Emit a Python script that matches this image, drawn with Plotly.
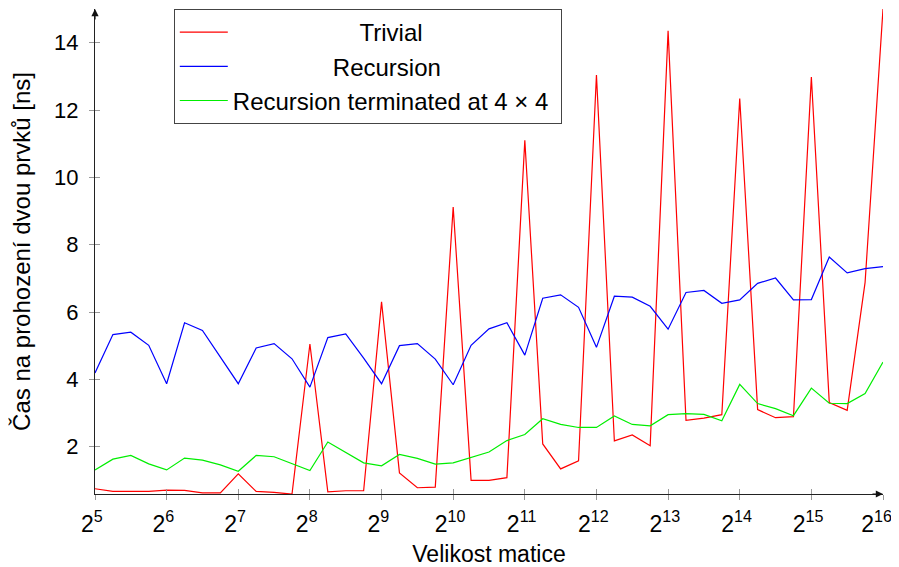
import math
import plotly.graph_objects as go

# x positions: matrix size exponents (size = 2**exponent), 4 samples per octave
exponents = [5.0, 5.25, 5.5, 5.75, 6.0, 6.25, 6.5, 6.75, 7.0, 7.25, 7.5, 7.75,
             8.0, 8.25, 8.5, 8.75, 9.0, 9.25, 9.5, 9.75, 10.0, 10.25, 10.5, 10.75,
             11.0, 11.25, 11.5, 11.75, 12.0, 12.25, 12.5, 12.75, 13.0, 13.25, 13.5, 13.75,
             14.0, 14.25, 14.5, 14.75, 15.0, 15.25, 15.5, 15.75, 16.0]

trivial = [0.75, 0.67, 0.67, 0.67, 0.71, 0.70, 0.63, 0.63, 1.19, 0.67, 0.64, 0.59,
           5.05, 0.66, 0.69, 0.69, 6.30, 1.22, 0.78, 0.80, 9.12, 1.00, 1.00, 1.08,
           11.10, 2.08, 1.34, 1.58, 13.04, 2.17, 2.35, 2.03, 14.35, 2.78, 2.85, 2.95,
           12.34, 3.10, 2.86, 2.89, 12.98, 3.31, 3.08, 6.88, 15.0]

recursion = [4.19, 5.33, 5.40, 5.01, 3.87, 5.68, 5.45, 4.66, 3.87, 4.93, 5.06, 4.61,
             3.77, 5.24, 5.35, 4.63, 3.87, 5.00, 5.06, 4.60, 3.84, 5.01, 5.50, 5.68,
             4.72, 6.41, 6.51, 6.14, 4.95, 6.47, 6.44, 6.17, 5.49, 6.58, 6.64, 6.26,
             6.36, 6.85, 7.01, 6.36, 6.37, 7.63, 7.16, 7.29, 7.35]

recursion4 = [1.31, 1.63, 1.74, 1.49, 1.31, 1.66, 1.60, 1.46, 1.27, 1.74, 1.70, 1.49,
              1.29, 2.14, 1.84, 1.52, 1.43, 1.77, 1.65, 1.48, 1.52, 1.69, 1.84, 2.18,
              2.36, 2.83, 2.66, 2.57, 2.57, 2.91, 2.66, 2.62, 2.95, 2.98, 2.96, 2.77,
              3.85, 3.28, 3.13, 2.92, 3.74, 3.29, 3.28, 3.58, 4.51]

tick_exponents = [5, 6, 7, 8, 9, 10, 11, 12, 13, 14, 15, 16]
y_ticks = [2, 4, 6, 8, 10, 12, 14]

FONT = "Liberation Sans, Arial, Helvetica, sans-serif"
NB = "\u00a0"

sizes = [2 ** e for e in exponents]
tick_vals = [2 ** e for e in tick_exponents]
tick_text = [f"2<sup>{e}</sup>" + NB for e in tick_exponents]
tick_text[-1] += NB  # keep the last label inside the window

fig = go.Figure()
fig.add_trace(go.Scatter(x=sizes, y=trivial, mode="lines", name=NB * 19 + "Trivial",
                         line=dict(color="#ff0000", width=1.2)))
fig.add_trace(go.Scatter(x=sizes, y=recursion, mode="lines", name=NB * 15 + "Recursion",
                         line=dict(color="#0000ff", width=1.2)))
fig.add_trace(go.Scatter(x=sizes, y=recursion4, mode="lines",
                         name="Recursion terminated at 4 × 4" + NB,
                         line=dict(color="#00ee00", width=1.2)))

xr = [math.log10(2 ** 5), math.log10(2 ** 16)]
yr = [0.594, 15.0]

# the page body has an 8px margin, so margins are set to place the plot area
fig.update_layout(
    width=899, height=559,
    margin=dict(l=87, r=24, t=1, b=73, autoexpand=False),
    paper_bgcolor="white", plot_bgcolor="white",
    font=dict(family=FONT, size=24, color="black"),
    showlegend=True,
    legend=dict(x=0.1, y=1.0, xanchor="left", yanchor="top",
                bgcolor="white", bordercolor="#444", borderwidth=1,
                font=dict(size=24), itemwidth=48),
    xaxis=dict(type="log", range=xr, tickvals=tick_vals, ticktext=tick_text,
               automargin=False,
               showgrid=False, zeroline=False, showline=True, linecolor="#222",
               linewidth=1.2, ticks="outside", ticklen=5, tickcolor="#999",
               tickfont=dict(size=23), ticklabelstandoff=4,
               title=dict(text="Velikost matice", font=dict(size=23), standoff=11)),
    yaxis=dict(range=yr, tickvals=y_ticks, showgrid=False, zeroline=False,
               automargin=False,
               showline=True, linecolor="#222", linewidth=1.2, ticks="outside",
               ticklen=5, tickcolor="#999", tickfont=dict(size=22),
               ticklabelstandoff=6,
               title=dict(text="Čas na prohození dvou prvků [ns]", font=dict(size=24),
                          standoff=17)),
    xaxis2=dict(type="log", range=xr, tickvals=tick_vals, overlaying="x",
                side="bottom", showticklabels=False, showgrid=False, zeroline=False,
                automargin=False,
                ticks="inside", ticklen=5, tickcolor="#999", anchor="y"),
    yaxis2=dict(range=yr, tickvals=y_ticks, overlaying="y", side="left",
                automargin=False,
                showticklabels=False, showgrid=False, zeroline=False,
                ticks="inside", ticklen=5, tickcolor="#999", anchor="x"),
)

# invisible trace to activate the overlay axes
fig.add_trace(go.Scatter(x=[sizes[0]], y=[recursion[0]], xaxis="x2", yaxis="y2",
                         mode="markers", marker=dict(opacity=0), showlegend=False,
                         hoverinfo="skip"))

# axis arrows
fig.add_annotation(x=1, y=0, xref="paper", yref="paper", text="", showarrow=True,
                   arrowhead=2, arrowsize=1.2, arrowwidth=1.2, arrowcolor="#111",
                   ax=-12, ay=0)
fig.add_annotation(x=0, y=1, xref="paper", yref="paper", text="", showarrow=True,
                   arrowhead=2, arrowsize=1.2, arrowwidth=1.2, arrowcolor="#111",
                   ax=0, ay=12)

fig.write_html("out.html")
